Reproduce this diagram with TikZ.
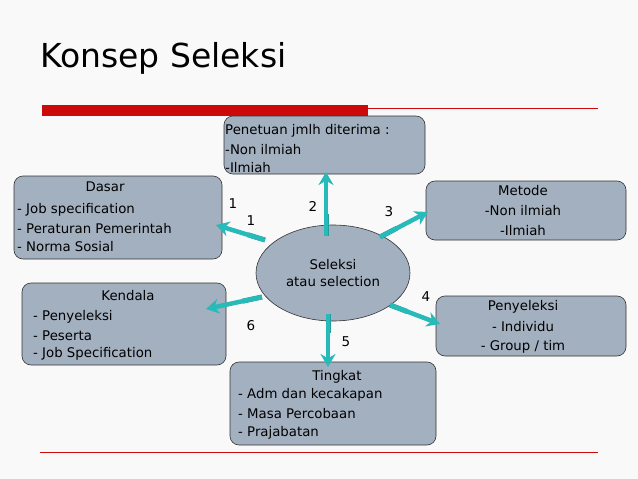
\documentclass[tikz,border=0pt]{standalone}
\usepackage{fontspec}
\setmainfont{DejaVu Sans}
\usetikzlibrary{arrows.meta,calc}
\definecolor{boxf}{RGB}{163,176,192}
\definecolor{teal1}{RGB}{40,185,185}
\definecolor{red1}{RGB}{204,10,10}
\begin{document}
\begin{tikzpicture}[x=1pt,y=-1pt,
  box/.style={draw=black!80,fill=boxf,rounded corners=9pt,line width=0.6pt},
  txt/.style={font=\fontsize{13.3}{13.3}\selectfont,inner sep=0pt},
  arr/.style={draw=teal1,line width=4.5pt,-{Stealth[length=13pt,width=15pt]}},
  fl/.style={draw=teal1!85!black,line width=5pt},
  num/.style={font=\fontsize{13.5}{13.5}\selectfont,inner sep=0pt}]
\fill[white!95!gray] (0,0) rectangle (638,479);
\useasboundingbox (0,0) rectangle (638,479);
\node[anchor=base west,font=\fontsize{33}{33}\selectfont,inner sep=0pt] (title) at (40,67) {Konsep Seleksi};
\fill[red1] (42,105) rectangle (368,116);
\draw[red1,line width=0.8pt] (368,108) -- (598,108);
\draw[red1,line width=0.8pt] (40,452) -- (598,452);
% boxes
\draw[box] (224,116) rectangle (425,174);
\node[txt,anchor=west] (p1) at (225,131) {Penetuan jmlh diterima :};
\node[txt,anchor=west] (p2) at (225,150) {-Non ilmiah};
\node[txt,anchor=west] (p3) at (225,168) {-Ilmiah};
\draw[box] (14,176) rectangle (222,259);
\node[txt] (d0) at (105,187) {Dasar};
\node[txt,anchor=west] (d1) at (17,210) {- Job specification};
\node[txt,anchor=west] (d2) at (17,229) {- Peraturan Pemerintah};
\node[txt,anchor=west] (d3) at (17,247) {- Norma Sosial};
\draw[box] (426,181) rectangle (626,240);
\node[txt] (m0) at (523,191) {Metode};
\node[txt] (m1) at (523,211) {-Non ilmiah};
\node[txt] (m2) at (523,231) {-Ilmiah};
\draw[box] (22,283) rectangle (226,365);
\node[txt] (k0) at (128,296) {Kendala};
\node[txt,anchor=west] (k1) at (33,317) {- Penyeleksi};
\node[txt,anchor=west] (k2) at (33,336) {- Peserta};
\node[txt,anchor=west] (k3) at (33,354) {- Job Specification};
\draw[box] (436,296) rectangle (626,356);
\node[txt] (s0) at (523,307) {Penyeleksi};
\node[txt] (s1) at (523,327) {- Individu};
\node[txt] (s2) at (523,347) {- Group / tim};
\draw[box] (230,362) rectangle (436,445);
\node[txt] (t0) at (337,377) {Tingkat};
\node[txt,anchor=west] (t1) at (238,395) {- Adm dan kecakapan};
\node[txt,anchor=west] (t2) at (238,414) {- Masa Percobaan};
\node[txt,anchor=west] (t3) at (238,433) {- Prajabatan};
\draw[box,rounded corners=0pt] (333,273) ellipse [x radius=77,y radius=48];
\node[txt,align=center] (c) at (333,273) {Seleksi\\[4pt]atau selection};
% arrows
\coordinate (a1s) at (265,240); \coordinate (a1e) at (216,225);
\coordinate (a2s) at (326,236); \coordinate (a2e) at (326,172);
\coordinate (a3s) at (380,237); \coordinate (a3e) at (428,212);
\coordinate (a4s) at (390,305); \coordinate (a4e) at (440,324);
\coordinate (a5s) at (328,314); \coordinate (a5e) at (328,367);
\coordinate (a6s) at (262,297); \coordinate (a6e) at (206,309);
\foreach \i in {1,...,6}{
  \draw[fl] (a\i s) -- ($(a\i s)!0.35!(a\i e)$);
  \draw[arr] (a\i s) -- (a\i e);
}
\node[num] (n1) at (233,204) {1};
\node[num] (n1b) at (251,221) {1};
\node[num] (n2) at (313,206) {2};
\node[num] (n3) at (389,212) {3};
\node[num] (n4) at (426,297) {4};
\node[num] (n5) at (346,342) {5};
\node[num] (n6) at (251,326) {6};
\end{tikzpicture}
\end{document}
